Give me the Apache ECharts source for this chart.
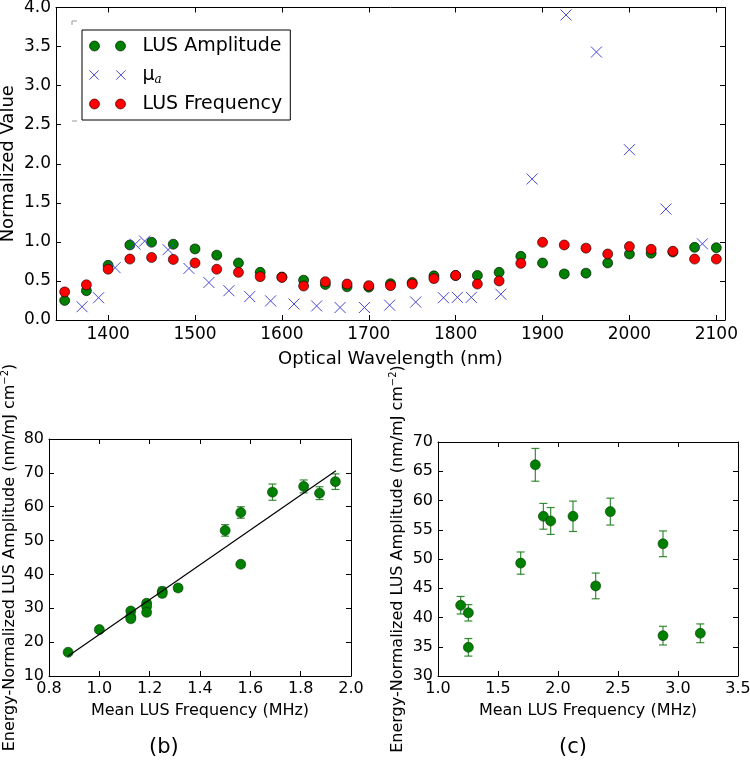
<!DOCTYPE html>
<html>
<head>
<meta charset="utf-8">
<script src="https://cdn.jsdelivr.net/npm/echarts@6/dist/echarts.min.js"></script>
<style>
html,body{margin:0;padding:0;background:#fff;}
#chart{width:750px;height:761px;}
</style>
</head>
<body>
<div id="chart"></div>
<script>
// ---------- Data: top panel ----------
const wavelengths = [1350,1375,1400,1425,1450,1475,1500,1525,1550,1575,1600,1625,1650,1675,1700,1725,1750,1775,1800,1825,1850,1875,1900,1925,1950,1975,2000,2025,2050,2075,2100];
const lusAmplitude = [0.25,0.375,0.70,0.96,0.995,0.97,0.91,0.83,0.73,0.61,0.55,0.51,0.455,0.425,0.42,0.465,0.48,0.565,0.57,0.57,0.61,0.815,0.73,0.59,0.60,0.73,0.845,0.855,0.87,0.93,0.925];
const lusFrequency = [0.36,0.45,0.65,0.78,0.80,0.775,0.73,0.65,0.61,0.555,0.545,0.435,0.49,0.46,0.44,0.44,0.46,0.53,0.57,0.46,0.50,0.725,0.995,0.96,0.92,0.845,0.94,0.905,0.88,0.78,0.78];
const muWavelengths = [1370,1389,1408,1431,1442,1469,1493,1516,1539,1563,1587,1614,1640,1667,1695,1724,1754,1786,1802,1818,1852,1888,1927,1962,2000,2042,2084];
const muA = [0.17,0.285,0.67,0.97,1.01,0.90,0.66,0.48,0.375,0.30,0.245,0.205,0.18,0.16,0.16,0.19,0.23,0.285,0.29,0.29,0.33,1.805,3.905,3.43,2.18,1.42,0.975];
const wavelengthTicks = [1400,1500,1600,1700,1800,1900,2000,2100];
const normTicks = [0,0.5,1.0,1.5,2.0,2.5,3.0,3.5,4.0];

// ---------- Data: panel (b) ----------
const bFreq = [0.876,1.0,1.125,1.125,1.125,1.188,1.188,1.188,1.25,1.25,1.313,1.5,1.562,1.562,1.688,1.812,1.875,1.938];
const bAmp  = [17.0,23.7,29.2,27.5,26.9,31.5,30.5,28.8,35.0,34.4,36.0,53.0,58.3,43.0,64.3,66.0,64.0,67.4];
const bErr  = [0.6,0.7,0.8,0.7,0.7,0.9,0.9,0.8,1.2,1.0,1.0,1.7,1.7,0.8,2.4,1.9,1.9,2.3];
const fitFreq = [0.875,1.94];
const fitAmp  = [15.8,70.6];
const bFreqTicks = [0.8,1.0,1.2,1.4,1.6,1.8,2.0];
const bAmpTicks = [10,20,30,40,50,60,70,80];

// ---------- Data: panel (c) ----------
const cFreq = [1.189,1.253,1.253,1.689,1.811,1.878,1.939,2.125,2.314,2.436,2.875,2.875,3.186];
const cAmp  = [42.1,40.8,34.9,49.3,66.1,57.3,56.5,57.3,45.4,58.1,52.6,36.9,37.3];
const cErr  = [1.5,1.4,1.5,1.9,2.8,2.2,2.3,2.6,2.2,2.3,2.2,1.6,1.6];
const cFreqTicks = [1.0,1.5,2.0,2.5,3.0,3.5];
const cAmpTicks = [30,35,40,45,50,55,60,65,70];

const FONT = 'DejaVu Sans';
const GREEN = '#008000';
const RED = '#ff0000';
const BLUE = '#4646d8';

function axis(gridIndex, position, min, max, ticks, fmt, primary, name, nameGap, fs, nfs) {
  return {
    type: 'value', gridIndex, position, min, max,
    splitLine: {show: false},
    axisLine: {show: true, onZero: false, lineStyle: {color: '#000', width: 1}},
    axisTick: {show: true, inside: true, length: 5, customValues: ticks, lineStyle: {color: '#000', width: 1}},
    axisLabel: {show: primary, customValues: ticks, formatter: fmt, color: '#000', fontSize: fs, fontFamily: FONT, margin: 5},
    name: primary ? name : '',
    nameLocation: 'middle',
    nameGap: nameGap,
    nameMoveOverlap: false,
    nameTextStyle: {color: '#000', fontSize: nfs || fs, fontFamily: FONT}
  };
}
const f1 = v => v.toFixed(1);
const f0 = v => v.toFixed(0);

const ampName = 'Energy-Normalized LUS Amplitude (nm/mJ cm{sup|−2})';

const xAxes = [
  axis(0, 'bottom', 1340, 2110, wavelengthTicks, f0, true, 'Optical Wavelength (nm)', 30, 17, 18),
  axis(0, 'top', 1340, 2110, wavelengthTicks, f0, false, '', 0, 17),
  axis(1, 'bottom', 0.8, 2.0, bFreqTicks, f1, true, 'Mean LUS Frequency (MHz)', 27, 16),
  axis(1, 'top', 0.8, 2.0, bFreqTicks, f1, false, '', 0, 16),
  axis(2, 'bottom', 1.0, 3.5, cFreqTicks, f1, true, 'Mean LUS Frequency (MHz)', 27, 16),
  axis(2, 'top', 1.0, 3.5, cFreqTicks, f1, false, '', 0, 16)
];
xAxes[0].axisLabel.margin = 6;
const yAxes = [
  axis(0, 'left', 0, 4, normTicks, f1, true, 'Normalized Value', 39, 17, 18),
  axis(0, 'right', 0, 4, normTicks, f1, false, '', 0, 17),
  axis(1, 'left', 10, 80, bAmpTicks, f0, true, ampName, 29, 16),
  axis(1, 'right', 10, 80, bAmpTicks, f0, false, '', 0, 16),
  axis(2, 'left', 30, 70, cAmpTicks, f0, true, ampName, 30, 16),
  axis(2, 'right', 30, 70, cAmpTicks, f0, false, '', 0, 16)
];
[2, 4].forEach(k => {
  yAxes[k].nameTextStyle.lineHeight = 20;
  yAxes[k].nameTextStyle.rich = {
    sup: {fontSize: 10, lineHeight: 10, verticalAlign: 'top', fontFamily: FONT, color: '#000'}
  };
});

function errorBars(xIdx, yIdx, xs, ys, es) {
  return {
    type: 'custom', xAxisIndex: xIdx, yAxisIndex: yIdx, silent: true, z: 1,
    data: xs.map((x, i) => [x, ys[i], es[i]]),
    encode: {x: 0, y: 1},
    renderItem: function (params, api) {
      const x = api.value(0), y = api.value(1), e = api.value(2);
      const t = api.coord([x, y + e]);
      const b = api.coord([x, y - e]);
      const st = {stroke: 'rgba(20,120,20,0.85)', lineWidth: 1.2};
      const cw = 4;
      return {type: 'group', children: [
        {type: 'line', shape: {x1: t[0], y1: t[1], x2: b[0], y2: b[1]}, style: st},
        {type: 'line', shape: {x1: t[0]-cw, y1: t[1], x2: t[0]+cw, y2: t[1]}, style: st},
        {type: 'line', shape: {x1: b[0]-cw, y1: b[1], x2: b[0]+cw, y2: b[1]}, style: st}
      ]};
    }
  };
}

const xPath = 'path://M0,0L10,10M10,0L0,10';
const twoCircles = 'path://M0,5A5,5,0,1,1,10,5A5,5,0,1,1,0,5ZM26,5A5,5,0,1,1,36,5A5,5,0,1,1,26,5Z';
const twoX = 'path://M0.5,0.5L9.5,9.5M9.5,0.5L0.5,9.5M26.5,0.5L35.5,9.5M35.5,0.5L26.5,9.5';

const series = [
  {name: 'LUS Amplitude', type: 'scatter', xAxisIndex: 0, yAxisIndex: 0, symbol: 'circle', symbolSize: 10,
   itemStyle: {color: GREEN, borderColor: '#000', borderWidth: 0.6, opacity: 1},
   data: wavelengths.map((w, i) => [w, lusAmplitude[i]])},
  {name: 'μa', type: 'scatter', xAxisIndex: 0, yAxisIndex: 0, symbol: xPath, symbolSize: 11,
   itemStyle: {color: 'transparent', borderColor: BLUE, borderWidth: 1, opacity: 1},
   data: muWavelengths.map((w, i) => [w, muA[i]])},
  {name: 'LUS Frequency', type: 'scatter', xAxisIndex: 0, yAxisIndex: 0, symbol: 'circle', symbolSize: 10,
   itemStyle: {color: RED, borderColor: '#000', borderWidth: 0.6, opacity: 1},
   data: wavelengths.map((w, i) => [w, lusFrequency[i]])},
  errorBars(2, 2, bFreq, bAmp, bErr),
  {type: 'scatter', xAxisIndex: 2, yAxisIndex: 2, symbol: 'circle', symbolSize: 10, z: 3,
   itemStyle: {color: GREEN, borderColor: '#0a3a0a', borderWidth: 0.6, opacity: 1},
   data: bFreq.map((x, i) => [x, bAmp[i]])},
  {type: 'line', xAxisIndex: 2, yAxisIndex: 2, symbol: 'none', z: 4,
   lineStyle: {color: '#000', width: 1.2},
   data: fitFreq.map((x, i) => [x, fitAmp[i]])},
  errorBars(4, 4, cFreq, cAmp, cErr),
  {type: 'scatter', xAxisIndex: 4, yAxisIndex: 4, symbol: 'circle', symbolSize: 10, z: 3,
   itemStyle: {color: GREEN, borderColor: '#0a3a0a', borderWidth: 0.6, opacity: 1},
   data: cFreq.map((x, i) => [x, cAmp[i]])}
];

const option = {
  animation: false,
  backgroundColor: '#fff',
  textStyle: {fontFamily: FONT},
  grid: [
    {left: 56, top: 7.5, width: 669, height: 312.5, outerBoundsMode: 'none'},
    {left: 49, top: 439, width: 302, height: 237, outerBoundsMode: 'none'},
    {left: 438, top: 442, width: 300, height: 234, outerBoundsMode: 'none'}
  ],
  xAxis: xAxes,
  yAxis: yAxes,
  legend: {
    orient: 'vertical', left: 82, top: 30,
    padding: [6, 8, 6, 7],
    itemWidth: 36, itemHeight: 10, itemGap: 8,
    borderColor: '#000', borderWidth: 1, backgroundColor: '#fff',
    selectedMode: false,
    data: [
      {name: 'LUS Amplitude', icon: twoCircles, itemStyle: {color: GREEN, borderColor: '#000', borderWidth: 0.6}},
      {name: 'μa', icon: twoX, itemStyle: {color: 'transparent', borderColor: BLUE, borderWidth: 1}},
      {name: 'LUS Frequency', icon: twoCircles, itemStyle: {color: RED, borderColor: '#000', borderWidth: 0.6}}
    ],
    formatter: function (name) {
      return name === 'μa' ? '{m|μ}{s|a}' : name;
    },
    textStyle: {
      color: '#000', fontSize: 19, fontFamily: FONT, lineHeight: 20, padding: [0, 0, 0, 12],
      rich: {
        m: {fontSize: 19, fontFamily: FONT, lineHeight: 22, color: '#000'},
        s: {fontSize: 12, fontFamily: 'DejaVu Serif', fontStyle: 'italic', lineHeight: 12, verticalAlign: 'bottom', color: '#000'}
      }
    }
  },
  graphic: [
    {type: 'polyline', shape: {points: [[72, 25], [72, 21], [77, 21]]}, style: {stroke: '#999', lineWidth: 1, fill: null}},
    {type: 'line', shape: {x1: 72, y1: 121, x2: 77, y2: 121}, style: {stroke: '#999', lineWidth: 1}},
    {type: 'text', left: 149, top: 737, style: {text: '(b)', font: '21px "DejaVu Sans"', fill: '#000'}},
    {type: 'text', left: 559, top: 737, style: {text: '(c)', font: '21px "DejaVu Sans"', fill: '#000'}}
  ],
  series: series
};

const chart = echarts.init(document.getElementById('chart'), null, {renderer: 'canvas'});
chart.setOption(option);
</script>
</body>
</html>
